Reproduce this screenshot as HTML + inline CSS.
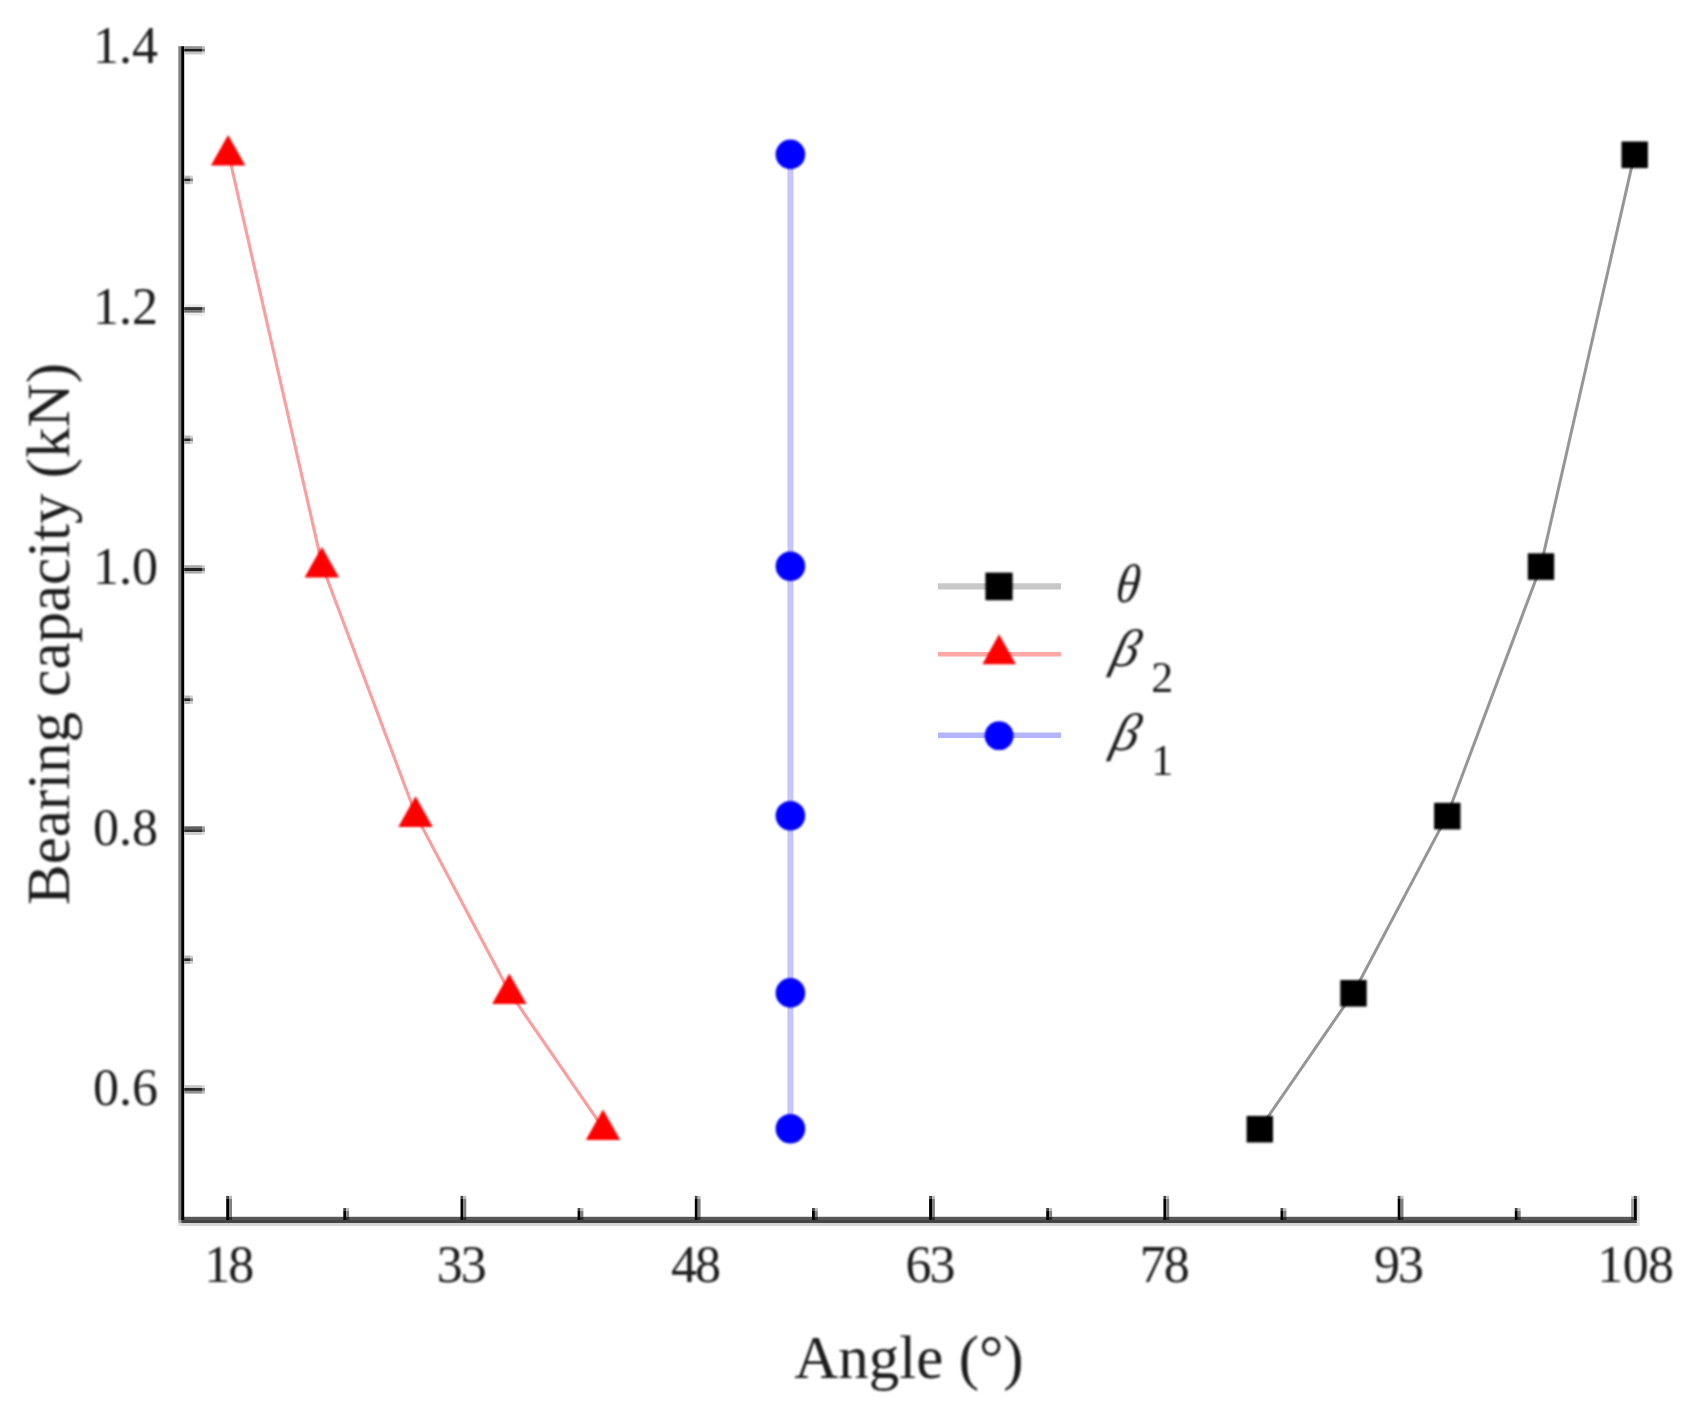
<!DOCTYPE html>
<html><head><meta charset="utf-8"><title>Bearing capacity vs angle</title>
<style>html,body{margin:0;padding:0;background:#fff}body{width:1702px;height:1427px;overflow:hidden}svg{display:block}text{font-family:"Liberation Serif",serif;fill:#1a1a1a}</style>
</head><body>
<svg width="1702" height="1427" viewBox="0 0 1702 1427">
<defs><filter id="soft" x="0" y="0" width="1702" height="1427" filterUnits="userSpaceOnUse"><feGaussianBlur stdDeviation="1"/></filter></defs>
<rect width="1702" height="1427" fill="#fff"/>
<g>
<polyline fill="none" stroke="#ff9c9c" stroke-width="3.1" points="228.7,154.4 322.4,566.2 416.1,815.7 509.9,992.9 603.6,1128.8"/>
<polyline fill="none" stroke="#c6c6ff" stroke-width="6" points="790.4,154.4 790.4,566.2 790.4,815.7 790.4,992.9 790.4,1128.8"/>
<polyline fill="none" stroke="#969696" stroke-width="3.0" points="1634.5,154.4 1540.8,566.2 1447.1,815.7 1353.4,992.9 1259.7,1128.8"/>
<rect x="181.2" y="1216.8" width="1455.7" height="3.2" fill="#585858"/>
<rect x="181.2" y="1220.0" width="1455.7" height="3.0" fill="#444"/>
<rect x="181.2" y="1223.0" width="1455.7" height="2.9" fill="#d4d4d4"/>
<rect x="178.3" y="46.2" width="2.9" height="1173.8" fill="#808080"/>
<rect x="178.3" y="1220.0" width="2.9" height="3.0" fill="#a8a8a8"/>
<rect x="178.3" y="1223.0" width="2.9" height="2.9" fill="#dcdcdc"/>
<rect x="181.2" y="46.2" width="3.0" height="1173.8" fill="#000"/>
<rect x="184.2" y="46.2" width="17.8" height="2.7" fill="#909090"/>
<rect x="184.2" y="48.9" width="17.8" height="2.8" fill="#1c1c1c"/>
<rect x="184.2" y="51.7" width="17.8" height="2.7" fill="#c4c4c4"/>
<rect x="202.0" y="46.2" width="2.9" height="2.7" fill="#909090" opacity="0.6"/>
<rect x="202.0" y="48.9" width="2.9" height="2.8" fill="#1c1c1c" opacity="0.6"/>
<rect x="202.0" y="51.7" width="2.9" height="2.7" fill="#c4c4c4" opacity="0.6"/>
<rect x="184.2" y="304.4" width="17.8" height="2.7" fill="#e8e8e8"/>
<rect x="184.2" y="307.1" width="17.8" height="3.0" fill="#333"/>
<rect x="184.2" y="310.1" width="17.8" height="2.7" fill="#707070"/>
<rect x="184.2" y="312.8" width="17.8" height="2.9" fill="#e8e8e8"/>
<rect x="202.0" y="304.4" width="2.9" height="2.7" fill="#e8e8e8" opacity="0.6"/>
<rect x="202.0" y="307.1" width="2.9" height="3.0" fill="#333" opacity="0.6"/>
<rect x="202.0" y="310.1" width="2.9" height="2.7" fill="#707070" opacity="0.6"/>
<rect x="202.0" y="312.8" width="2.9" height="2.9" fill="#e8e8e8" opacity="0.6"/>
<rect x="184.2" y="565.2" width="17.8" height="2.8" fill="#aaa"/>
<rect x="184.2" y="568.0" width="17.8" height="3.0" fill="#222"/>
<rect x="184.2" y="571.0" width="17.8" height="2.6" fill="#aaa"/>
<rect x="202.0" y="565.2" width="2.9" height="2.8" fill="#aaa" opacity="0.6"/>
<rect x="202.0" y="568.0" width="2.9" height="3.0" fill="#222" opacity="0.6"/>
<rect x="202.0" y="571.0" width="2.9" height="2.6" fill="#aaa" opacity="0.6"/>
<rect x="184.2" y="826.3" width="17.8" height="2.9" fill="#606060"/>
<rect x="184.2" y="829.2" width="17.8" height="3.0" fill="#333"/>
<rect x="184.2" y="832.2" width="17.8" height="2.7" fill="#ccc"/>
<rect x="202.0" y="826.3" width="2.9" height="2.9" fill="#606060" opacity="0.6"/>
<rect x="202.0" y="829.2" width="2.9" height="3.0" fill="#333" opacity="0.6"/>
<rect x="202.0" y="832.2" width="2.9" height="2.7" fill="#ccc" opacity="0.6"/>
<rect x="184.2" y="1085.2" width="17.8" height="2.8" fill="#c4c4c4"/>
<rect x="184.2" y="1088.0" width="17.8" height="2.9" fill="#262626"/>
<rect x="184.2" y="1090.9" width="17.8" height="2.7" fill="#909090"/>
<rect x="202.0" y="1085.2" width="2.9" height="2.8" fill="#c4c4c4" opacity="0.6"/>
<rect x="202.0" y="1088.0" width="2.9" height="2.9" fill="#262626" opacity="0.6"/>
<rect x="202.0" y="1090.9" width="2.9" height="2.7" fill="#909090" opacity="0.6"/>
<rect x="184.2" y="175.6" width="5.8" height="2.9" fill="#b4b4b4"/>
<rect x="184.2" y="178.5" width="5.8" height="2.9" fill="#262626"/>
<rect x="184.2" y="181.3" width="5.8" height="2.9" fill="#b4b4b4"/>
<rect x="190.0" y="175.6" width="2.9" height="2.9" fill="#b4b4b4" opacity="0.6"/>
<rect x="190.0" y="178.5" width="2.9" height="2.9" fill="#262626" opacity="0.6"/>
<rect x="190.0" y="181.3" width="2.9" height="2.9" fill="#b4b4b4" opacity="0.6"/>
<rect x="184.2" y="435.5" width="5.8" height="2.9" fill="#b4b4b4"/>
<rect x="184.2" y="438.4" width="5.8" height="2.9" fill="#262626"/>
<rect x="184.2" y="441.2" width="5.8" height="2.9" fill="#b4b4b4"/>
<rect x="190.0" y="435.5" width="2.9" height="2.9" fill="#b4b4b4" opacity="0.6"/>
<rect x="190.0" y="438.4" width="2.9" height="2.9" fill="#262626" opacity="0.6"/>
<rect x="190.0" y="441.2" width="2.9" height="2.9" fill="#b4b4b4" opacity="0.6"/>
<rect x="184.2" y="695.5" width="5.8" height="2.8" fill="#b4b4b4"/>
<rect x="184.2" y="698.3" width="5.8" height="2.9" fill="#262626"/>
<rect x="184.2" y="701.2" width="5.8" height="2.8" fill="#b4b4b4"/>
<rect x="190.0" y="695.5" width="2.9" height="2.8" fill="#b4b4b4" opacity="0.6"/>
<rect x="190.0" y="698.3" width="2.9" height="2.9" fill="#262626" opacity="0.6"/>
<rect x="190.0" y="701.2" width="2.9" height="2.8" fill="#b4b4b4" opacity="0.6"/>
<rect x="184.2" y="955.5" width="5.8" height="2.8" fill="#b4b4b4"/>
<rect x="184.2" y="958.3" width="5.8" height="2.9" fill="#262626"/>
<rect x="184.2" y="961.2" width="5.8" height="2.8" fill="#b4b4b4"/>
<rect x="190.0" y="955.5" width="2.9" height="2.8" fill="#b4b4b4" opacity="0.6"/>
<rect x="190.0" y="958.3" width="2.9" height="2.9" fill="#262626" opacity="0.6"/>
<rect x="190.0" y="961.2" width="2.9" height="2.8" fill="#b4b4b4" opacity="0.6"/>
<rect x="226.2" y="1195.9" width="2.9" height="3.0" fill="#444"/>
<rect x="226.2" y="1198.9" width="2.9" height="21.1" fill="#000"/>
<rect x="229.1" y="1195.9" width="2.9" height="3.0" fill="#bbb"/>
<rect x="229.1" y="1198.9" width="2.9" height="17.9" fill="#808080"/>
<rect x="229.1" y="1216.8" width="2.9" height="3.2" fill="#2c2c2c"/>
<rect x="460.5" y="1195.9" width="2.9" height="3.0" fill="#444"/>
<rect x="460.5" y="1198.9" width="2.9" height="21.1" fill="#000"/>
<rect x="463.4" y="1195.9" width="2.9" height="3.0" fill="#bbb"/>
<rect x="463.4" y="1198.9" width="2.9" height="17.9" fill="#808080"/>
<rect x="463.4" y="1216.8" width="2.9" height="3.2" fill="#2c2c2c"/>
<rect x="694.8" y="1195.9" width="2.9" height="3.0" fill="#444"/>
<rect x="694.8" y="1198.9" width="2.9" height="21.1" fill="#000"/>
<rect x="697.7" y="1195.9" width="2.9" height="3.0" fill="#bbb"/>
<rect x="697.7" y="1198.9" width="2.9" height="17.9" fill="#808080"/>
<rect x="697.7" y="1216.8" width="2.9" height="3.2" fill="#2c2c2c"/>
<rect x="929.1" y="1195.9" width="2.9" height="3.0" fill="#444"/>
<rect x="929.1" y="1198.9" width="2.9" height="21.1" fill="#000"/>
<rect x="932.0" y="1195.9" width="2.9" height="3.0" fill="#bbb"/>
<rect x="932.0" y="1198.9" width="2.9" height="17.9" fill="#808080"/>
<rect x="932.0" y="1216.8" width="2.9" height="3.2" fill="#2c2c2c"/>
<rect x="1163.4" y="1195.9" width="2.9" height="3.0" fill="#444"/>
<rect x="1163.4" y="1198.9" width="2.9" height="21.1" fill="#000"/>
<rect x="1166.3" y="1195.9" width="2.9" height="3.0" fill="#bbb"/>
<rect x="1166.3" y="1198.9" width="2.9" height="17.9" fill="#808080"/>
<rect x="1166.3" y="1216.8" width="2.9" height="3.2" fill="#2c2c2c"/>
<rect x="1397.7" y="1195.9" width="2.9" height="3.0" fill="#444"/>
<rect x="1397.7" y="1198.9" width="2.9" height="21.1" fill="#000"/>
<rect x="1400.6" y="1195.9" width="2.9" height="3.0" fill="#bbb"/>
<rect x="1400.6" y="1198.9" width="2.9" height="17.9" fill="#808080"/>
<rect x="1400.6" y="1216.8" width="2.9" height="3.2" fill="#2c2c2c"/>
<rect x="343.3" y="1208.0" width="2.9" height="3.0" fill="#444"/>
<rect x="343.3" y="1211.0" width="2.9" height="9.0" fill="#000"/>
<rect x="346.2" y="1208.0" width="2.9" height="3.0" fill="#bbb"/>
<rect x="346.2" y="1211.0" width="2.9" height="5.8" fill="#808080"/>
<rect x="346.2" y="1216.8" width="2.9" height="3.2" fill="#2c2c2c"/>
<rect x="577.6" y="1208.0" width="2.9" height="3.0" fill="#444"/>
<rect x="577.6" y="1211.0" width="2.9" height="9.0" fill="#000"/>
<rect x="580.5" y="1208.0" width="2.9" height="3.0" fill="#bbb"/>
<rect x="580.5" y="1211.0" width="2.9" height="5.8" fill="#808080"/>
<rect x="580.5" y="1216.8" width="2.9" height="3.2" fill="#2c2c2c"/>
<rect x="812.0" y="1208.0" width="2.9" height="3.0" fill="#444"/>
<rect x="812.0" y="1211.0" width="2.9" height="9.0" fill="#000"/>
<rect x="814.9" y="1208.0" width="2.9" height="3.0" fill="#bbb"/>
<rect x="814.9" y="1211.0" width="2.9" height="5.8" fill="#808080"/>
<rect x="814.9" y="1216.8" width="2.9" height="3.2" fill="#2c2c2c"/>
<rect x="1046.2" y="1208.0" width="2.9" height="3.0" fill="#444"/>
<rect x="1046.2" y="1211.0" width="2.9" height="9.0" fill="#000"/>
<rect x="1049.2" y="1208.0" width="2.9" height="3.0" fill="#bbb"/>
<rect x="1049.2" y="1211.0" width="2.9" height="5.8" fill="#808080"/>
<rect x="1049.2" y="1216.8" width="2.9" height="3.2" fill="#2c2c2c"/>
<rect x="1280.5" y="1208.0" width="2.9" height="3.0" fill="#444"/>
<rect x="1280.5" y="1211.0" width="2.9" height="9.0" fill="#000"/>
<rect x="1283.5" y="1208.0" width="2.9" height="3.0" fill="#bbb"/>
<rect x="1283.5" y="1211.0" width="2.9" height="5.8" fill="#808080"/>
<rect x="1283.5" y="1216.8" width="2.9" height="3.2" fill="#2c2c2c"/>
<rect x="1514.8" y="1208.0" width="2.9" height="3.0" fill="#444"/>
<rect x="1514.8" y="1211.0" width="2.9" height="9.0" fill="#000"/>
<rect x="1517.8" y="1208.0" width="2.9" height="3.0" fill="#bbb"/>
<rect x="1517.8" y="1211.0" width="2.9" height="5.8" fill="#808080"/>
<rect x="1517.8" y="1216.8" width="2.9" height="3.2" fill="#2c2c2c"/>
<rect x="1631.1" y="1195.9" width="2.8" height="3.0" fill="#c8c8c8"/>
<rect x="1631.1" y="1198.9" width="2.8" height="17.9" fill="#a0a0a0"/>
<rect x="1631.1" y="1216.8" width="2.8" height="3.2" fill="#3a3a3a"/>
<rect x="1633.9" y="1195.9" width="3.0" height="3.0" fill="#444"/>
<rect x="1633.9" y="1198.9" width="3.0" height="21.1" fill="#000"/>
<rect x="1636.9" y="1195.9" width="2.8" height="30.0" fill="#dddddd"/>
<g filter="url(#soft)">
<polygon fill="#ff0000" points="228.1,135.0 210.9,165.6 245.3,165.6"/>
<polygon fill="#ff0000" points="321.8,546.8 304.6,577.4 339.0,577.4"/>
<polygon fill="#ff0000" points="415.5,796.3 398.3,826.9 432.7,826.9"/>
<polygon fill="#ff0000" points="509.3,973.5 492.1,1004.1 526.5,1004.1"/>
<polygon fill="#ff0000" points="603.0,1109.4 585.8,1140.0 620.2,1140.0"/>
<circle cx="790.4" cy="154.4" r="14.8" fill="#0000ff"/>
<circle cx="790.4" cy="566.2" r="14.8" fill="#0000ff"/>
<circle cx="790.4" cy="815.7" r="14.8" fill="#0000ff"/>
<circle cx="790.4" cy="992.9" r="14.8" fill="#0000ff"/>
<circle cx="790.4" cy="1128.8" r="14.8" fill="#0000ff"/>
<rect x="1621.5" y="141.5" width="26.4" height="26.6" fill="#000"/>
<rect x="1527.8" y="553.3" width="26.4" height="26.6" fill="#000"/>
<rect x="1434.1" y="802.8" width="26.4" height="26.6" fill="#000"/>
<rect x="1340.3" y="980.0" width="26.4" height="26.6" fill="#000"/>
<rect x="1246.6" y="1115.9" width="26.4" height="26.6" fill="#000"/>
</g>
<polyline fill="none" stroke="#c8c8c8" stroke-width="6.2" points="938.0,586.3 1061.0,586.3"/>
<g filter="url(#soft)">
<rect x="985.4" y="572.6" width="27.2" height="27.6" fill="#000"/>
</g>
<polyline fill="none" stroke="#ffa8a8" stroke-width="4.6" points="938.0,654.3 1061.0,654.3"/>
<polygon filter="url(#soft)" fill="#ff0000" points="999,634.2 982.4,664.2 1015.9,664.2"/>
<polyline fill="none" stroke="#b4b4ff" stroke-width="5.4" points="938.0,735.3 1061.0,735.3"/>
<circle filter="url(#soft)" cx="999.1" cy="735.7" r="14.4" fill="#0000ff"/>
<g filter="url(#soft)">
<text transform="translate(1114.6,601.6) skewX(-7) scale(0.88,1)" font-size="54.5" font-style="italic">θ</text>
<text transform="translate(1109.6,666) skewX(-14)" font-size="52.5" font-style="italic">β</text>
<text x="1151.2" y="692.2" font-size="44">2</text>
<text transform="translate(1109.6,749.6) skewX(-14)" font-size="52.5" font-style="italic">β</text>
<text x="1151.2" y="775.4" font-size="44">1</text>
<text x="158" y="63.0" font-size="52" text-anchor="end">1.4</text>
<text x="158" y="323.5" font-size="52" text-anchor="end">1.2</text>
<text x="158" y="584.0" font-size="52" text-anchor="end">1.0</text>
<text x="158" y="844.5" font-size="52" text-anchor="end">0.8</text>
<text x="158" y="1105.0" font-size="52" text-anchor="end">0.6</text>
<text x="228.2" y="1282.2" font-size="52" text-anchor="middle" letter-spacing="-2">18</text>
<text x="460.8" y="1282.2" font-size="52" text-anchor="middle" letter-spacing="-2">33</text>
<text x="695.1" y="1282.2" font-size="52" text-anchor="middle" letter-spacing="-2">48</text>
<text x="929.4" y="1282.2" font-size="52" text-anchor="middle" letter-spacing="-2">63</text>
<text x="1163.7" y="1282.2" font-size="52" text-anchor="middle" letter-spacing="-2">78</text>
<text x="1398.0" y="1282.2" font-size="52" text-anchor="middle" letter-spacing="-2">93</text>
<text x="1635.4" y="1282.2" font-size="52" text-anchor="middle" letter-spacing="-0.6">108</text>
<text x="909" y="1378.2" font-size="61" text-anchor="middle">Angle (°)</text>
<text transform="translate(69,634) rotate(-90)" font-size="61" text-anchor="middle">Bearing capacity (kN)</text>
</g>
</g>
</svg>
</body></html>
